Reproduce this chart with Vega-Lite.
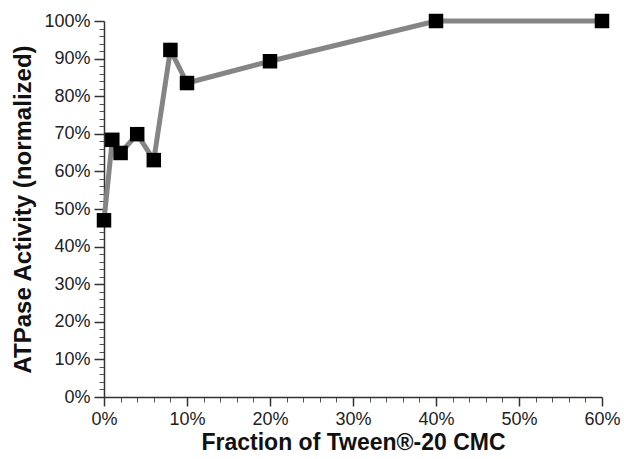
{
  "$schema": "https://vega.github.io/schema/vega-lite/v6.json",
  "width": 498,
  "height": 376,
  "autosize": {"type": "none"},
  "padding": {"left": 104, "top": 21, "right": 22, "bottom": 62},
  "background": "white",
  "config": {
    "view": {"stroke": null},
    "font": "Liberation Sans",
    "axis": {"grid": false, "domainColor": "#333", "tickColor": "#333", "labelColor": "#222", "labelFontSize": 18, "labelFont": "Liberation Sans", "titleFont": "Liberation Sans", "titleColor": "#111", "labelOverlap": false, "labelFlush": false}
  },
  "data": {"values": [
    {"frac": 0, "act": 0.47},
    {"frac": 0.01, "act": 0.684},
    {"frac": 0.02, "act": 0.649},
    {"frac": 0.04, "act": 0.699},
    {"frac": 0.06, "act": 0.63},
    {"frac": 0.08, "act": 0.923},
    {"frac": 0.10, "act": 0.835},
    {"frac": 0.20, "act": 0.893},
    {"frac": 0.40, "act": 1.0},
    {"frac": 0.60, "act": 1.0}
  ]},
  "resolve": {"axis": {"x": "independent", "y": "independent"}},
  "layer": [
    {
      "mark": {"type": "line", "opacity": 0},
      "encoding": {
        "x": {"field": "frac", "type": "quantitative", "scale": {"domain": [0, 0.6], "nice": false, "zero": false},
          "axis": {"orient": "bottom", "values": [0.02,0.04,0.06,0.08,0.12,0.14,0.16,0.18,0.22,0.24,0.26,0.28,0.32,0.34,0.36,0.38,0.42,0.44,0.46,0.48,0.52,0.54,0.56,0.58], "labels": false, "domain": false, "tickSize": 5, "tickWidth": 1, "tickColor": "#555", "title": null}},
        "y": {"field": "act", "type": "quantitative", "scale": {"domain": [0, 1], "nice": false, "zero": false},
          "axis": {"orient": "left", "values": [0.02,0.04,0.06,0.08,0.12,0.14,0.16,0.18,0.22,0.24,0.26,0.28,0.32,0.34,0.36,0.38,0.42,0.44,0.46,0.48,0.52,0.54,0.56,0.58,0.62,0.64,0.66,0.68,0.72,0.74,0.76,0.78,0.82,0.84,0.86,0.88,0.92,0.94,0.96,0.98], "labels": false, "domain": false, "tickSize": 5, "tickWidth": 1, "tickColor": "#555", "title": null}}
      }
    },
    {
      "mark": {"type": "line", "color": "#858585", "strokeWidth": 5},
      "encoding": {
        "x": {"field": "frac", "type": "quantitative", "scale": {"domain": [0, 0.6], "nice": false, "zero": false},
          "axis": {"orient": "bottom", "format": ".0%", "values": [0,0.1,0.2,0.3,0.4,0.5,0.6], "tickSize": 9, "domainWidth": 1.5, "tickWidth": 1.5, "labelPadding": 4, "title": "Fraction of Tween®-20 CMC", "titleFontSize": 23, "titleFontWeight": "bold", "titlePadding": 3}},
        "y": {"field": "act", "type": "quantitative", "scale": {"domain": [0, 1], "nice": false, "zero": false},
          "axis": {"orient": "left", "format": ".0%", "values": [0,0.1,0.2,0.3,0.4,0.5,0.6,0.7,0.8,0.9,1.0], "tickSize": 10, "domainWidth": 1.5, "tickWidth": 1.5, "labelPadding": 4, "title": "ATPase Activity (normalized)", "titleFontSize": 24, "titleFontWeight": "bold", "titlePadding": 8}}
      }
    },
    {
      "mark": {"type": "square", "color": "black", "opacity": 1, "size": 210},
      "encoding": {
        "x": {"field": "frac", "type": "quantitative", "scale": {"domain": [0, 0.6], "nice": false, "zero": false}, "axis": null},
        "y": {"field": "act", "type": "quantitative", "scale": {"domain": [0, 1], "nice": false, "zero": false}, "axis": null}
      }
    }
  ]
}
